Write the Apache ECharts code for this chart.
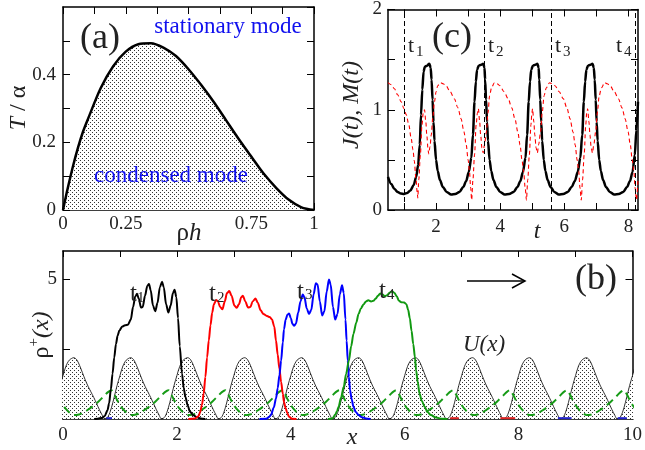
<!DOCTYPE html>
<html><head><meta charset="utf-8">
<script src="https://cdn.jsdelivr.net/npm/echarts@6/dist/echarts.min.js"></script>
<style>html,body{margin:0;padding:0;background:#fff}#c{width:645px;height:450px}</style>
</head><body><div id="c"></div>
<script>
// ---------- DATA ----------
// panel (a): T/alpha vs rho*h
const aRho = [0,0.01,0.02,0.04,0.06,0.08,0.1,0.15,0.2,0.25,0.3,0.35,0.4,0.45,0.5,0.55,0.6,0.65,0.7,0.75,0.8,0.85,0.9,0.95,1.0];
const aT   = [0,0.035,0.068,0.13,0.185,0.232,0.27,0.36,0.425,0.468,0.49,0.493,0.48,0.455,0.416,0.37,0.32,0.265,0.21,0.158,0.107,0.065,0.03,0.008,0];
const aXLabels = [0,0.25,0.75,1];
const aYLabels = [0,0.2,0.4];

// panel (c): J(t) and M(t)
const cJ = [[0.5,0.33],[0.6,0.26],[0.7,0.21],[0.8,0.18],[0.9,0.165],[1.0,0.16],[1.1,0.17],[1.2,0.195],[1.3,0.25],[1.38,0.33],[1.44,0.45],[1.49,0.65],[1.53,0.95],[1.57,1.2],[1.61,1.38],[1.65,1.43],[1.72,1.44],[1.79,1.46],[1.83,1.42],[1.86,1.3],[1.89,1.1],[1.92,0.88],[1.95,0.69],[2.0,0.5],[2.05,0.39],[2.12,0.3],[2.21,0.23],[2.33,0.18],[2.47,0.155],[2.6,0.16],[2.73,0.18],[2.85,0.23],[2.94,0.29],[3.02,0.38],[3.1,0.52],[3.15,0.75],[3.2,1.08],[3.24,1.28],[3.28,1.4],[3.33,1.44],[3.41,1.45],[3.47,1.46],[3.51,1.42],[3.53,1.3],[3.56,1.1],[3.59,0.88],[3.62,0.69],[3.67,0.5],[3.72,0.39],[3.79,0.3],[3.88,0.23],[4.0,0.18],[4.14,0.155],[4.28,0.16],[4.42,0.18],[4.54,0.23],[4.63,0.29],[4.71,0.38],[4.79,0.52],[4.84,0.75],[4.89,1.08],[4.93,1.28],[4.97,1.4],[5.02,1.44],[5.1,1.45],[5.16,1.46],[5.2,1.42],[5.22,1.3],[5.25,1.1],[5.28,0.88],[5.31,0.69],[5.36,0.5],[5.41,0.39],[5.48,0.3],[5.57,0.23],[5.69,0.18],[5.83,0.155],[5.97,0.16],[6.11,0.18],[6.23,0.23],[6.33,0.29],[6.42,0.38],[6.5,0.52],[6.56,0.75],[6.61,1.08],[6.65,1.28],[6.69,1.4],[6.74,1.44],[6.82,1.45],[6.88,1.46],[6.92,1.42],[6.95,1.3],[6.98,1.1],[7.01,0.88],[7.04,0.69],[7.09,0.5],[7.14,0.39],[7.21,0.3],[7.3,0.23],[7.42,0.18],[7.56,0.155],[7.7,0.16],[7.84,0.18],[7.96,0.23],[8.05,0.29],[8.13,0.38],[8.2,0.55],[8.25,0.8],[8.3,1.08]];
const cM = [[0.5,1.27],[0.6,1.25],[0.7,1.21],[0.8,1.15],[0.91,1.08],[1.0,1.01],[1.07,0.95],[1.15,0.85],[1.22,0.72],[1.28,0.6],[1.32,0.49],[1.37,0.32],[1.41,0.18],[1.43,0.12],[1.46,0.3],[1.51,0.55],[1.56,0.85],[1.6,0.97],[1.64,1.0],[1.68,0.88],[1.71,0.75],[1.75,0.6],[1.77,0.56],[1.81,0.63],[1.85,0.75],[1.9,0.93],[1.95,1.08],[2.0,1.18],[2.05,1.24],[2.14,1.27],[2.22,1.26],[2.31,1.24],[2.44,1.18],[2.57,1.11],[2.68,1.02],[2.78,0.91],[2.87,0.78],[2.94,0.65],[3.0,0.5],[3.04,0.39],[3.08,0.22],[3.11,0.1],[3.15,0.3],[3.2,0.55],[3.25,0.85],[3.29,0.97],[3.32,1.01],[3.36,0.88],[3.39,0.75],[3.43,0.62],[3.47,0.57],[3.51,0.65],[3.57,0.78],[3.62,0.97],[3.67,1.14],[3.73,1.22],[3.82,1.27],[3.9,1.26],[3.99,1.24],[4.12,1.18],[4.25,1.11],[4.36,1.02],[4.46,0.91],[4.55,0.78],[4.62,0.65],[4.68,0.5],[4.73,0.39],[4.78,0.22],[4.82,0.1],[4.86,0.3],[4.91,0.55],[4.96,0.85],[4.99,0.97],[5.01,1.01],[5.05,0.88],[5.08,0.75],[5.12,0.62],[5.16,0.57],[5.2,0.65],[5.26,0.78],[5.31,0.97],[5.37,1.14],[5.44,1.22],[5.54,1.27],[5.62,1.26],[5.71,1.24],[5.84,1.18],[5.97,1.11],[6.08,1.02],[6.18,0.91],[6.27,0.78],[6.34,0.65],[6.4,0.5],[6.45,0.39],[6.49,0.22],[6.53,0.1],[6.57,0.3],[6.62,0.55],[6.67,0.85],[6.7,0.97],[6.73,1.01],[6.77,0.88],[6.8,0.75],[6.84,0.62],[6.88,0.57],[6.92,0.65],[6.98,0.78],[7.03,0.97],[7.09,1.14],[7.16,1.22],[7.26,1.27],[7.34,1.26],[7.43,1.24],[7.56,1.18],[7.69,1.11],[7.8,1.02],[7.9,0.91],[7.99,0.78],[8.06,0.65],[8.12,0.5],[8.17,0.39],[8.21,0.22],[8.25,0.1],[8.3,0.3]];
const cTimes = [1.0,3.5,5.6,8.2];
const cXTicks = [1,2,3,4,5,6,7,8];
const cXLabels = [2,4,6,8];
const cYLabels = [0,1,2];

// panel (b): U(x) bump (offset from peak, value) and peak positions
const uProfile = [[-0.46,0],[-0.40,0.08],[-0.34,0.4],[-0.29,0.79],[-0.24,1.2],[-0.19,1.55],[-0.14,1.88],[-0.08,2.1],[0,2.19],[0.05,2.12],[0.1,1.92],[0.15,1.66],[0.2,1.4],[0.25,1.17],[0.3,0.97],[0.35,0.77],[0.4,0.55],[0.45,0.33],[0.5,0.13],[0.54,0]];
const uPeaks = [0.19,1.19,2.19,3.19,4.19,5.19,6.19,7.19,8.19,9.19,10.19];
// green dashed curve profile and peak positions
const gProfile = [[-0.65,0.14],[-0.57,0.16],[-0.5,0.22],[-0.42,0.32],[-0.33,0.45],[-0.25,0.58],[-0.18,0.72],[-0.12,0.84],[-0.06,0.96],[0,1.03],[0.05,0.88],[0.1,0.68],[0.15,0.5],[0.2,0.36],[0.27,0.22],[0.35,0.14]];
const gPeaks = [-0.15,0.85,1.85,2.85,3.85,4.85,5.85,6.85,7.85,8.85,9.85];
// densities at t1..t4
const rho1 = [[0.55,0],[0.61,0.01],[0.68,0.04],[0.73,0.1],[0.78,0.3],[0.81,0.56],[0.84,1.05],[0.87,1.62],[0.90,2.2],[0.93,2.68],[0.96,2.98],[0.99,3.16],[1.04,3.3],[1.09,3.35],[1.14,3.37],[1.19,3.55],[1.23,4.0],[1.27,4.38],[1.30,4.47],[1.33,4.3],[1.37,3.98],[1.40,4.0],[1.44,4.4],[1.48,4.75],[1.51,4.82],[1.54,4.6],[1.58,4.05],[1.62,3.85],[1.66,4.15],[1.70,4.7],[1.74,4.9],[1.77,4.7],[1.81,4.1],[1.85,3.8],[1.89,4.05],[1.93,4.5],[1.96,4.62],[1.99,4.35],[2.02,3.6],[2.05,2.6],[2.09,1.62],[2.12,1.1],[2.15,0.79],[2.19,0.48],[2.23,0.26],[2.29,0.13],[2.35,0.06],[2.42,0.02],[2.5,0]];
const rho2 = [[2.2,0],[2.32,0.02],[2.38,0.1],[2.41,0.26],[2.44,0.5],[2.47,0.9],[2.5,1.5],[2.53,2.2],[2.56,2.8],[2.59,3.35],[2.62,3.8],[2.65,4.1],[2.69,4.25],[2.72,4.2],[2.76,4.0],[2.80,3.92],[2.84,4.2],[2.88,4.5],[2.92,4.57],[2.96,4.4],[3.01,4.05],[3.05,3.97],[3.09,4.1],[3.13,4.35],[3.16,4.4],[3.20,4.2],[3.25,3.98],[3.29,4.0],[3.33,4.2],[3.38,4.3],[3.42,4.15],[3.47,3.88],[3.52,3.75],[3.57,3.69],[3.63,3.64],[3.67,3.55],[3.71,3.3],[3.74,2.8],[3.77,2.3],[3.80,1.8],[3.83,1.32],[3.86,0.9],[3.88,0.61],[3.91,0.38],[3.94,0.2],[3.97,0.08],[4.02,0.01],[4.1,0]];
const rho3 = [[3.45,0],[3.57,0.01],[3.62,0.07],[3.65,0.14],[3.70,0.4],[3.74,0.73],[3.77,1.1],[3.80,1.56],[3.83,2.09],[3.86,2.74],[3.88,3.2],[3.91,3.55],[3.94,3.72],[3.97,3.77],[4.0,3.6],[4.03,3.39],[4.06,3.33],[4.09,3.4],[4.13,3.8],[4.17,4.2],[4.21,4.45],[4.24,4.35],[4.28,3.95],[4.32,3.75],[4.36,3.9],[4.40,4.45],[4.44,4.85],[4.47,4.8],[4.51,4.2],[4.55,3.7],[4.59,3.85],[4.63,4.55],[4.67,4.98],[4.70,4.8],[4.74,4.0],[4.78,3.55],[4.82,3.75],[4.86,4.45],[4.90,4.78],[4.93,4.5],[4.96,3.55],[4.98,2.8],[5.0,2.09],[5.02,1.5],[5.04,1.03],[5.07,0.7],[5.10,0.44],[5.14,0.25],[5.19,0.14],[5.25,0.06],[5.32,0.02],[5.4,0]];
const rho4 = [[4.65,0],[4.73,0.02],[4.78,0.15],[4.81,0.28],[4.84,0.44],[4.88,0.75],[4.93,1.15],[4.97,1.6],[5.02,2.09],[5.06,2.6],[5.10,3.04],[5.15,3.45],[5.19,3.75],[5.23,3.95],[5.28,4.1],[5.32,4.2],[5.36,4.24],[5.41,4.2],[5.45,4.22],[5.49,4.3],[5.53,4.4],[5.57,4.48],[5.61,4.45],[5.65,4.38],[5.69,4.42],[5.74,4.52],[5.78,4.56],[5.82,4.5],[5.86,4.38],[5.90,4.22],[5.94,4.17],[5.99,4.16],[6.03,4.1],[6.06,3.9],[6.09,3.6],[6.12,3.15],[6.15,2.68],[6.18,2.2],[6.20,1.74],[6.23,1.3],[6.26,0.91],[6.30,0.65],[6.35,0.44],[6.40,0.25],[6.46,0.14],[6.55,0.05],[6.65,0.01],[6.75,0]];
const tailRed = [[6.8,6.95],[7.68,7.94]];
const tailBlue = [[0.76,0.86],[8.69,8.93],[9.74,9.9]];
const bXLabels = [0,2,4,6,8,10];
const bYTicks = [2.5,5];
const bYLabels = [5];

// ---------- chart ----------
const FONT = "'Liberation Serif', 'DejaVu Serif', serif";
const TXT = '#222';
function makePattern(){
  const c = document.createElement('canvas'); c.width = 4; c.height = 4;
  const g = c.getContext('2d');
  g.fillStyle = '#fff'; g.fillRect(0,0,4,4);
  g.fillStyle = '#333'; g.fillRect(0,0,1,1); g.fillRect(2,2,1,1);
  return c;
}
const pat = {image: makePattern(), repeat: 'repeat'};
const has = (arr, v) => arr.some(l => Math.abs(l - v) < 1e-6);
const fmtNum = v => String(+(+v).toFixed(3));

const uData = [];
uPeaks.forEach(p => uProfile.forEach(([d, v]) => uData.push([+(p + d).toFixed(3), v])));
const gData = [];
gPeaks.forEach(p => gProfile.forEach(([d, v]) => gData.push([+(p + d).toFixed(3), v])));

const axLine = {show:true, onZero:false, lineStyle:{color:'#000', width:1.5}};
const tick = (len) => ({show:true, inside:true, length:len, lineStyle:{color:'#000', width:1}});
const lab = (extra) => Object.assign({color:TXT, fontFamily:FONT, fontSize:19}, extra);
const noLab = {show:false};

const xAxis = [
  {gridIndex:0, type:'value', min:0, max:1, interval:0.125, position:'bottom', axisLine:axLine, axisTick:tick(7), splitLine:{show:false},
   axisLabel:lab({margin:5, showMinLabel:true, showMaxLabel:true, formatter:v => has(aXLabels, v) ? fmtNum(v) : ''})},
  {gridIndex:0, type:'value', min:0, max:1, interval:0.125, position:'top', axisLine:axLine, axisTick:tick(7), splitLine:{show:false}, axisLabel:noLab},
  {gridIndex:1, type:'value', min:0.5, max:8.3, position:'bottom', axisLine:axLine, splitLine:{show:false},
   axisTick:Object.assign(tick(7), {customValues:cXTicks}),
   axisLabel:lab({margin:8, customValues:cXLabels, formatter:v => fmtNum(v)})},
  {gridIndex:1, type:'value', min:0.5, max:8.3, position:'top', axisLine:axLine, splitLine:{show:false},
   axisTick:Object.assign(tick(7), {customValues:cXTicks}), axisLabel:noLab},
  {gridIndex:2, type:'value', min:0, max:10, interval:1, position:'bottom', axisLine:axLine, axisTick:tick(6), splitLine:{show:false},
   axisLabel:lab({margin:7, showMinLabel:true, showMaxLabel:true, formatter:v => has(bXLabels, v) ? fmtNum(v) : ''})},
  {gridIndex:2, type:'value', min:0, max:10, interval:1, position:'top', axisLine:axLine, axisTick:tick(6), splitLine:{show:false}, axisLabel:noLab}
];
const yAxis = [
  {gridIndex:0, type:'value', min:0, max:0.6, interval:0.1, position:'left', axisLine:axLine, axisTick:tick(7), splitLine:{show:false},
   axisLabel:lab({margin:7, showMinLabel:true, showMaxLabel:false, formatter:v => has(aYLabels, v) ? fmtNum(v) : ''})},
  {gridIndex:0, type:'value', min:0, max:0.6, interval:0.1, position:'right', axisLine:axLine, axisTick:tick(7), splitLine:{show:false}, axisLabel:noLab},
  {gridIndex:1, type:'value', min:0, max:2, interval:0.5, position:'left', axisLine:axLine, axisTick:tick(7), splitLine:{show:false},
   axisLabel:lab({margin:6, showMinLabel:true, showMaxLabel:true, formatter:v => has(cYLabels, v) ? fmtNum(v) : ''})},
  {gridIndex:1, type:'value', min:0, max:2, interval:0.5, position:'right', axisLine:axLine, axisTick:tick(7), splitLine:{show:false}, axisLabel:noLab},
  {gridIndex:2, type:'value', min:0, max:6, position:'left', axisLine:axLine, splitLine:{show:false},
   axisTick:Object.assign(tick(7), {customValues:bYTicks}),
   axisLabel:lab({margin:6, customValues:bYLabels, formatter:v => fmtNum(v)})},
  {gridIndex:2, type:'value', min:0, max:6, position:'right', axisLine:axLine, splitLine:{show:false},
   axisTick:Object.assign(tick(7), {customValues:bYTicks}), axisLabel:noLab}
];

const line = (xi, yi, data, color, width, extra) => Object.assign({
  type:'line', xAxisIndex:xi, yAxisIndex:yi, data, symbol:'none', showSymbol:false,
  lineStyle:{color, width}, silent:true, animation:false, clip:true
}, extra || {});

const series = [
  line(0, 0, aRho.map((r, i) => [r, aT[i]]), '#000', 2.5, {smooth:0.3, areaStyle:{color:pat, opacity:1}}),
  line(2, 2, cJ, '#000', 2.5, {smooth:0.3, smoothMonotone:'x',
    markLine:{silent:true, symbol:'none', label:{show:false}, animation:false,
      lineStyle:{color:'#000', width:1, type:[5,3]}, data:cTimes.map(t => ({xAxis:t}))}}),
  line(2, 2, cM, '#ff0000', 1.1, {smooth:0.3, smoothMonotone:'x', lineStyle:{color:'#ff0000', width:1.1, type:[4,3]}}),
  line(4, 4, uData, '#000', 0.8, {smooth:0.3, areaStyle:{color:pat, opacity:1}}),
  line(4, 4, gData, '#119911', 2, {smooth:0.3, lineStyle:{color:'#169b16', width:2, type:[8,5]}}),
  line(4, 4, rho1, '#000', 2, {smooth:0.3, smoothMonotone:'x'}),
  line(4, 4, rho2, '#ff0000', 2, {smooth:0.3, smoothMonotone:'x'}),
  line(4, 4, rho3, '#0000ff', 2, {smooth:0.3, smoothMonotone:'x'}),
  line(4, 4, rho4, '#119911', 2, {smooth:0.3, smoothMonotone:'x'})
];
tailRed.forEach(s => series.push(line(4, 4, [[s[0],0.03],[s[1],0.03]], '#dd2222', 2)));
tailBlue.forEach(s => series.push(line(4, 4, [[s[0],0.03],[s[1],0.03]], '#2222cc', 2)));

function T(x, y, text, size, o) {
  o = o || {};
  const style = {text, fontFamily:FONT, fontSize:size, fill:o.color || TXT,
    align:o.align || 'center', verticalAlign:o.va || 'middle'};
  if (o.italic) style.fontStyle = 'italic';
  if (o.rich) style.rich = o.rich;
  return {type:'text', x, y, rotation:o.rot || 0, z:100, silent:true, style};
}
// "t" with a lowered subscript: x = left of t, y = baseline of t
const sub = (x, y, s, big, small, dx, dy) => [
  T(x, y, 't', big, {align:'left', va:'alphabetic'}),
  T(x + dx, y + dy, s, small, {align:'left', va:'alphabetic'})
];

const graphic = [
  T(100, 39, '(a)', 36),
  T(228, 27, 'stationary mode', 23, {color:'#1010ee'}),
  T(171, 176, 'condensed mode', 23, {color:'#1010ee'}),
  T(19, 108, '{i|T} / α', 24, {rot:Math.PI/2, rich:{i:{fontStyle:'italic', fontFamily:FONT, fontSize:24, fill:TXT}}}),
  T(189, 233, 'ρ{i|h}', 25, {rich:{i:{fontStyle:'italic', fontFamily:FONT, fontSize:25, fill:TXT}}}),
  T(452, 38, '(c)', 36),
  T(352, 105, 'J(t), M(t)', 24, {rot:Math.PI/2, italic:true}),
  T(537, 232, 't', 24, {italic:true}),
  ...sub(408, 35, '1', 22, 15, 8, 10), ...sub(488, 35, '2', 22, 15, 8, 10), ...sub(555, 35, '3', 22, 15, 8, 10), ...sub(616, 35, '4', 22, 15, 8, 10),
  T(596, 280, '(b)', 36),
  T(484, 345, 'U(x)', 23, {italic:true}),
  T(352, 438, 'x', 24, {italic:true}),
  T(42, 335, '{r|ρ}{s|+}{i|(x)}', 24, {rot:Math.PI/2, rich:{
    r:{fontFamily:FONT, fontSize:24, fill:TXT},
    s:{fontFamily:FONT, fontSize:15, fill:TXT, verticalAlign:'top', lineHeight:30},
    i:{fontFamily:FONT, fontSize:24, fontStyle:'italic', fill:TXT}}}),
  ...sub(130, 282, '1', 25, 15, 7, 9), ...sub(209, 282, '2', 25, 15, 8, 9), ...sub(297, 280, '3', 25, 15, 8, 8), ...sub(379, 279, '4', 25, 15, 8, 9),
  {type:'line', z:100, silent:true, shape:{x1:467, y1:281, x2:525, y2:281}, style:{stroke:'#000', lineWidth:1.5}},
  {type:'polyline', z:100, silent:true, shape:{points:[[512,274],[525,281],[512,288]]}, style:{stroke:'#000', lineWidth:1.5, fill:null}}
];

const chart = echarts.init(document.getElementById('c'), null, {renderer:'canvas'});
chart.setOption({
  animation:false,
  backgroundColor:'#fff',
  grid:[
    {left:63, top:7, width:251, height:203},
    {left:388, top:6, width:250, height:204},
    {left:63, top:251, width:575, height:168}
  ],
  xAxis, yAxis, series, graphic
});
</script></body></html>
